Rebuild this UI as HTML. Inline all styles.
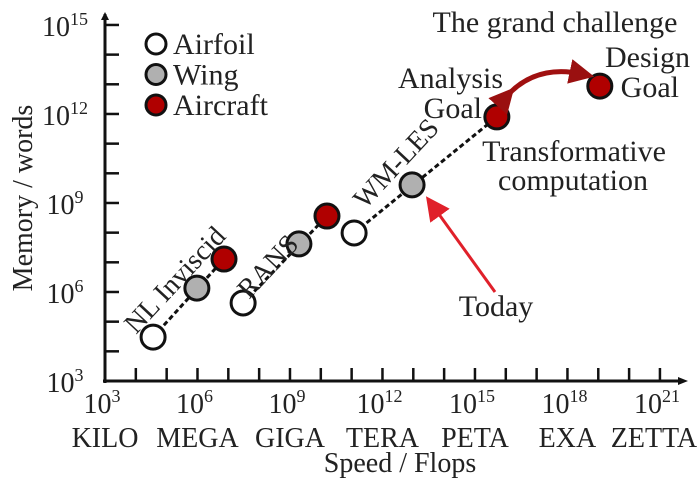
<!DOCTYPE html>
<html><head><meta charset="utf-8"><style>
body{margin:0;background:#fff}
svg{display:block;font-family:"Liberation Serif",serif;fill:#222}
</style></head><body>
<svg id="c" width="700" height="484" viewBox="0 0 700 484">
<defs>
<marker id="ah" markerWidth="8" markerHeight="8" refX="4" refY="4" orient="auto"><path d="M0,0 L8,4 L0,8 z" fill="#e0202a"/></marker>
<marker id="ah2" markerWidth="5" markerHeight="5" refX="2.5" refY="2.5" orient="auto"><path d="M0,0 L5,2.5 L0,5 z" fill="#9a1010"/></marker>
</defs>
<g id="axes"></g>
<g id="lines"></g>
<g id="marks"></g>
<g id="ann"></g>
</svg>
<script>
const xTickExp=[3,6,9,12,15,18,21];
const xPrefixes=["KILO","MEGA","GIGA","TERA","PETA","EXA","ZETTA"];
const yTickExp=[3,6,9,12,15];
const seriesNames=["Airfoil","Wing","Aircraft"];
const airfoilX=[4.56,7.48,11.08];
const airfoilY=[4.48,5.63,7.99];
const wingX=[5.98,9.29,12.96];
const wingY=[6.13,7.62,9.61];
const aircraftX=[6.86,10.2,15.71,19.05];
const aircraftY=[7.11,8.56,11.9,12.94];
const regimeLabels=["NL Inviscid","RANS","WM-LES"];

const NS="http://www.w3.org/2000/svg";
const X=e=>105+(e-3)*30.83;
const Y=e=>381-(e-3)*29.67;
function mk(tag,attrs,parent,text){const el=document.createElementNS(NS,tag);for(const k in attrs)el.setAttribute(k,attrs[k]);if(text!==undefined)el.textContent=text;document.getElementById(parent).appendChild(el);return el;}

let a=mk('line',{x1:105,y1:383,x2:105,y2:14,stroke:'#111','stroke-width':3},'axes');


mk('path',{d:'M101,20 L105,12 L109,20 z',fill:'#111'},'axes');
a=mk('line',{x1:103,y1:381,x2:682,y2:381,stroke:'#111','stroke-width':3},'axes');


mk('path',{d:'M678,377 L688,381 L678,385 z',fill:'#111'},'axes');
for(let e=4;e<=21;e++){mk('line',{x1:X(e),y1:381,x2:X(e),y2:368,stroke:'#111','stroke-width':2.5},'axes');}
for(let e=4;e<=15;e++){mk('line',{x1:105,y1:Y(e),x2:119,y2:Y(e),stroke:'#111','stroke-width':2.5},'axes');}
xTickExp.forEach((e,i)=>{
 const t=mk('text',{x:X(e)-3,y:413,'font-size':28,'text-anchor':'middle'},'axes');
 
 
 t.innerHTML='10<tspan dy="-11" font-size="18">'+e+'</tspan>';
 const p=mk('text',{x:X(e)+(i==6?-6:0),y:447,'font-size':28,'text-anchor':'middle'},'axes',xPrefixes[i]);
 
 
});
yTickExp.forEach(e=>{
 const t=mk('text',{x:65,y:Y(e)+11,'font-size':28,'text-anchor':'middle'},'axes');
 
 
 t.innerHTML='10<tspan dy="-11" font-size="18">'+e+'</tspan>';
});
a=mk('text',{x:400,y:472,'font-size':28,'text-anchor':'middle'},'axes','Speed / Flops');


a=mk('text',{x:0,y:0,'font-size':28,'text-anchor':'middle',transform:'translate(32,198) rotate(-90)'},'axes','Memory / words');



const segs=[[airfoilX[0],airfoilY[0],aircraftX[0],aircraftY[0]],[airfoilX[1],airfoilY[1],aircraftX[1],aircraftY[1]],[airfoilX[2],airfoilY[2],aircraftX[2],aircraftY[2]]];
segs.forEach(s=>{const l=mk('line',{x1:X(s[0]),y1:Y(s[1]),x2:X(s[2]),y2:Y(s[3]),stroke:'#111','stroke-width':3,'stroke-dasharray':'5,3'},'lines');
 
 });

const fills=['#ffffff','#b0b0b0','#b00000'];
function pts(xs,ys,f,name){xs.forEach((x,i)=>{const c=mk('circle',{cx:X(x),cy:Y(ys[i]),r:12,fill:f,stroke:'#111','stroke-width':3},'marks');
 
 });}
pts(airfoilX,airfoilY,fills[0],'airfoil-point');
pts(wingX,wingY,fills[1],'wing-point');
pts(aircraftX,aircraftY,fills[2],'aircraft-point');

seriesNames.forEach((n,i)=>{const cy=44+i*30.5;
 const c=mk('circle',{cx:156,cy:cy,r:10,fill:fills[i],stroke:'#111','stroke-width':3},'ann');
 
 
 const t=mk('text',{x:173,y:cy+10,'font-size':30},'ann',n);
 
 });

const rl=[[136,335],[249,300],[365,210]];
regimeLabels.forEach((n,i)=>{const t=mk('text',{x:0,y:0,'font-size':28,transform:'translate('+rl[i][0]+','+rl[i][1]+') rotate(-47)'},'ann',n);
 
 });

function txt(s,x,y,anchor,name){const t=mk('text',{x:x,y:y,'font-size':30,'text-anchor':anchor},'ann',s);}
txt('The grand challenge',555,32,'middle','grand-challenge-title');
txt('Design',690,67,'end','design-label');
txt('Goal',679,97,'end','design-goal-label');
txt('Analysis',503,88,'end','analysis-label');
txt('Goal',482,118,'end','analysis-goal-label');
txt('Transformative',574,161,'middle','transformative-label');
txt('computation',573,190,'middle','computation-label');
txt('Today',496,316,'middle','today-label');
a=mk('line',{x1:495,y1:292,x2:433,y2:206,stroke:'#e0202a','stroke-width':3,'marker-end':'url(#ah)'},'ann');


a=mk('path',{d:'M506,97 Q535,64 582,74',fill:'none',stroke:'#a01010','stroke-width':5,'marker-start':'url(#ah2)','marker-end':'url(#ah2)'},'ann');


</script>
</body></html>
